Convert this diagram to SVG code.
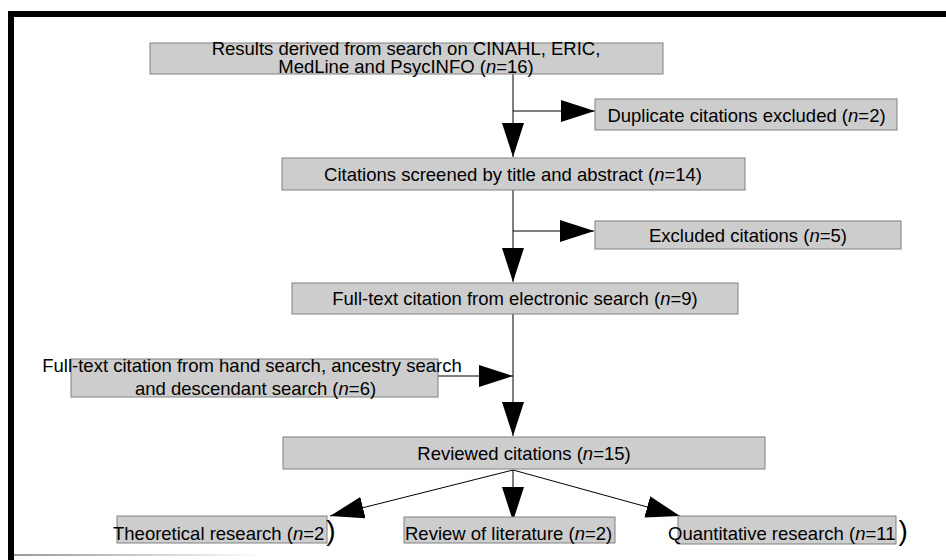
<svg xmlns="http://www.w3.org/2000/svg" width="946" height="560" viewBox="0 0 946 560">
<defs>
<style>
.box{fill:#cdcdcd;stroke:#808080;stroke-width:1}
.t{font-family:"Liberation Sans",Arial,sans-serif;font-size:18.5px;fill:#000}
.c{text-anchor:middle}
.i{font-style:italic}
.big{font-size:28px}
.ln{fill:none;stroke:#000;stroke-width:1}
</style>
<marker id="ah" viewBox="0 0 34 22" refX="34" refY="11" markerWidth="34" markerHeight="22" markerUnits="userSpaceOnUse" orient="auto">
<path d="M0,0 L34,11 L0,22 z" fill="#000"/>
</marker>
<linearGradient id="fade" x1="0" x2="1" y1="0" y2="0">
<stop offset="0" stop-color="#999"/>
<stop offset="1" stop-color="#fff"/>
</linearGradient>
</defs>
<rect x="0" y="0" width="946" height="560" fill="#fff"/>
<g id="frame">
<rect x="8" y="11" width="938" height="6" fill="#000"/>
<rect x="8" y="11" width="6" height="549" fill="#000"/>
<rect x="14" y="554" width="250" height="2" fill="url(#fade)"/>
</g>
<g id="connectors">
<path class="ln" d="M513,74 V157" marker-end="url(#ah)"/>
<path class="ln" d="M513,111 H595" marker-end="url(#ah)"/>
<path class="ln" d="M513,190 V282" marker-end="url(#ah)"/>
<path class="ln" d="M513,231 H594" marker-end="url(#ah)"/>
<path class="ln" d="M513,314 V436" marker-end="url(#ah)"/>
<path class="ln" d="M438,376 H513" marker-end="url(#ah)"/>
<path class="ln" d="M513,470 L330,516" marker-end="url(#ah)"/>
<path class="ln" d="M513,470 V521" marker-end="url(#ah)"/>
<path class="ln" d="M513,470 L680,516" marker-end="url(#ah)"/>
</g>
<g id="n1">
<rect class="box" x="150" y="43" width="513" height="31"/>
<text class="t c" x="406" y="55">Results derived from search on CINAHL, ERIC,</text>
<text class="t c" x="406" y="73">MedLine and PsycINFO (<tspan class="i">n</tspan>=16)</text>
</g>
<g id="n2">
<rect class="box" x="595" y="99" width="302" height="31"/>
<text class="t c" x="746.5" y="122">Duplicate citations excluded (<tspan class="i">n</tspan>=2)</text>
</g>
<g id="n3">
<rect class="box" x="282" y="158" width="463" height="32"/>
<text class="t c" x="513" y="181">Citations screened by title and abstract (<tspan class="i">n</tspan>=14)</text>
</g>
<g id="n4">
<rect class="box" x="595" y="221" width="306" height="28"/>
<text class="t c" x="748" y="242">Excluded citations (<tspan class="i">n</tspan>=5)</text>
</g>
<g id="n5">
<rect class="box" x="292" y="283" width="446" height="31"/>
<text class="t c" x="515" y="305">Full-text citation from electronic search (<tspan class="i">n</tspan>=9)</text>
</g>
<g id="n6">
<rect class="box" x="71" y="359" width="367" height="38"/>
<text class="t c" x="252" y="372">Full-text citation from hand search, ancestry search</text>
<text class="t c" x="255.5" y="395">and descendant search (<tspan class="i">n</tspan>=6)</text>
</g>
<g id="n7">
<rect class="box" x="283" y="437" width="482" height="32"/>
<text class="t c" x="524" y="460">Reviewed citations (<tspan class="i">n</tspan>=15)</text>
</g>
<g id="n8">
<rect class="box" x="117" y="516" width="210" height="27"/>
<text class="t" x="113" y="540">Theoretical research (<tspan class="i">n</tspan>=2<tspan class="big" dx="2">)</tspan></text>
</g>
<g id="n9">
<rect class="box" x="404" y="517" width="211" height="26"/>
<text class="t" x="405" y="540">Review of literature (<tspan class="i">n</tspan>=2)</text>
</g>
<g id="n10">
<rect class="box" x="678" y="516" width="218" height="28"/>
<text class="t" x="668" y="540">Quantitative research (<tspan class="i">n</tspan>=11<tspan class="big" dx="3">)</tspan></text>
</g>
</svg>
